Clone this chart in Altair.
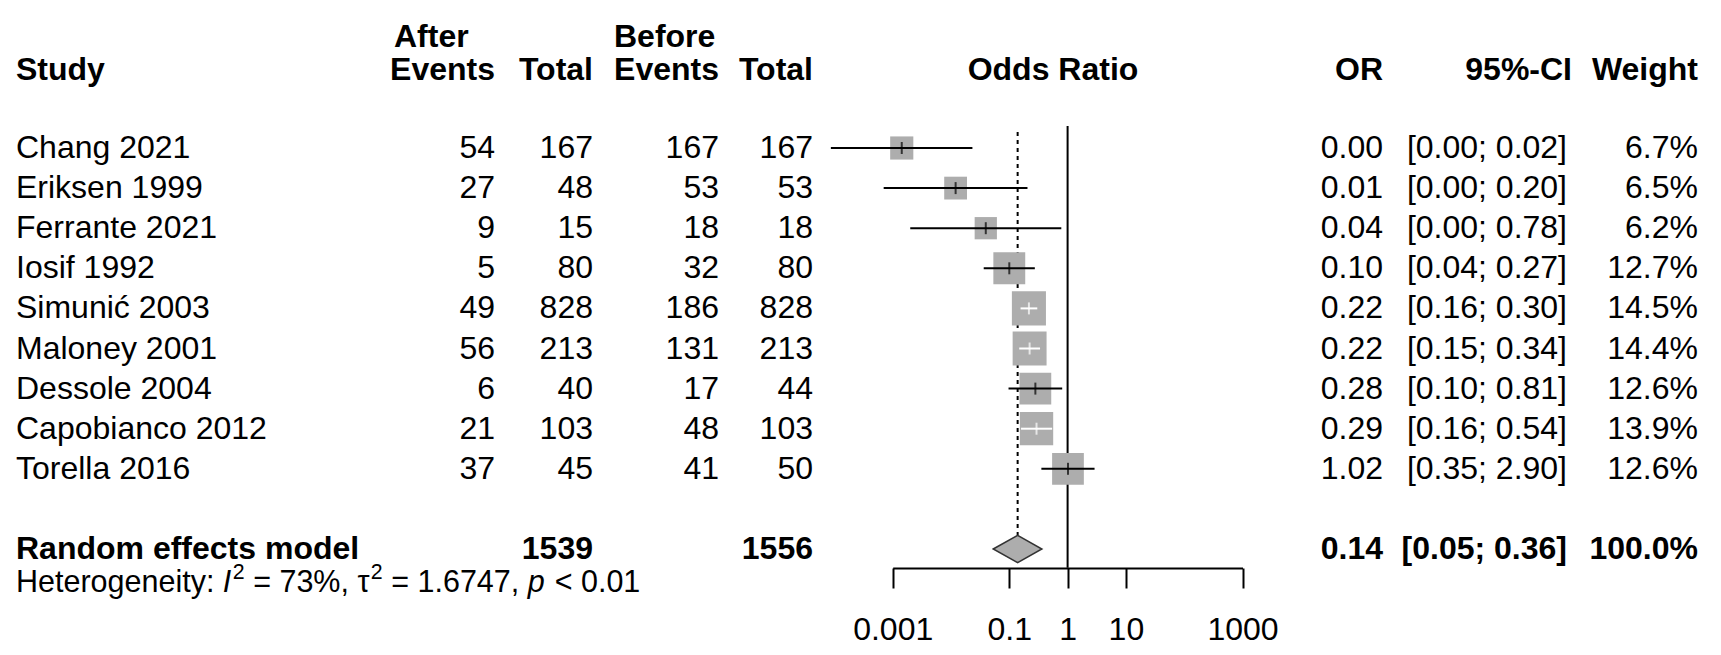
import altair as alt
import pandas as pd

# ---------------- data ----------------
studies = ["Chang 2021", "Eriksen 1999", "Ferrante 2021", "Iosif 1992", "Simunić 2003",
           "Maloney 2001", "Dessole 2004", "Capobianco 2012", "Torella 2016"]
ev_after = [54, 27, 9, 5, 49, 56, 6, 21, 37]
n_after = [167, 48, 15, 80, 828, 213, 40, 103, 45]
ev_before = [167, 53, 18, 32, 186, 131, 17, 48, 41]
n_before = [167, 53, 18, 80, 828, 213, 44, 103, 50]
or_est = [0.00143, 0.0120, 0.0395, 0.100, 0.217, 0.223, 0.280, 0.293, 1.015]
ci_low = [0.000087, 0.00070, 0.0020, 0.0364, 0.156, 0.148, 0.097, 0.159, 0.355]
ci_high = [0.0233, 0.205, 0.78, 0.274, 0.302, 0.337, 0.808, 0.543, 2.90]
weights = [6.7, 6.5, 6.2, 12.7, 14.5, 14.4, 12.6, 13.9, 12.6]
or_labels = ["0.00", "0.01", "0.04", "0.10", "0.22", "0.22", "0.28", "0.29", "1.02"]
ci_labels = ["[0.00; 0.02]", "[0.00; 0.20]", "[0.00; 0.78]", "[0.04; 0.27]", "[0.16; 0.30]",
             "[0.15; 0.34]", "[0.10; 0.81]", "[0.16; 0.54]", "[0.35; 2.90]"]

pooled_label = "Random effects model"
pooled_n_after = 1539
pooled_n_before = 1556
pooled_est = 0.139
pooled_low = 0.053
pooled_high = 0.362
pooled_or_label = "0.14"
pooled_ci_label = "[0.05; 0.36]"
pooled_w_label = "100.0%"
null_or = 1.0

# heterogeneity line, as (text, style) pieces
het_pieces = [("Heterogeneity: ", "normal"), ("I", "italic"), ("2", "sup"),
              (" = 73%, τ", "normal"), ("2", "sup"), (" = 1.6747, ", "normal"),
              ("p", "italic"), (" < 0.01", "normal")]

header_top = ["After", "Before"]
header_main = ["Study", "Events", "Total", "Events", "Total", "Odds Ratio", "OR", "95%-CI", "Weight"]
axis_ticks = [0.001, 0.1, 1, 10, 1000]

# ---------------- styles / layout ----------------
FONT = "Liberation Sans"
FS = 32
HET_FS = 30.5
SUP_SCALE = 0.7
SQ_COLOR = "#ADADAD"
AREA_PER_PCT = 80
DECADE_PX = 58.3
DIAMOND_HALF = 0.34

# Arial / Liberation Sans advance widths (em) for the heterogeneity text
ADV = {"H": .722, "e": .556, "t": .278, "r": .333, "o": .556, "g": .556, "n": .556, "i": .222,
       "y": .5, ":": .278, " ": .278, "I": .278, "=": .584, "%": .889, ",": .278, "τ": .44,
       ".": .278, "p": .556, "<": .584}
def text_width(s, size):
    return sum(ADV.get(c, .556) for c in s) * size

n = len(studies)
pooled_row = n + 1

yscale = alt.Scale(domain=[0, pooled_row], range=[140, 541], zero=False, nice=False)
xscale = alt.Scale(type="log", domain=[0.001, 1000], range=[884.7, 1234.5], nice=False)
xaxis = alt.Axis(values=axis_ticks, format="~g", title=None, grid=False,
                 domainColor="black", domainWidth=2, tickColor="black", tickWidth=2,
                 tickSize=20, labelFont=FONT, labelFontSize=FS, labelColor="black",
                 labelPadding=26, labelFlush=False, labelOverlap=False)

df = pd.DataFrame(dict(study=studies, ev_after=ev_after, n_after=n_after, ev_before=ev_before,
                       n_before=n_before, est=or_est, lo=ci_low, hi=ci_high, weight=weights,
                       or_lab=or_labels, ci_lab=ci_labels))
df["row"] = list(range(n))
df["w_lab"] = [f"{w:.1f}%" for w in weights]

pooled = pd.DataFrame(dict(label=[pooled_label], n_after=[pooled_n_after], n_before=[pooled_n_before],
                           est=[pooled_est], lo=[pooled_low], hi=[pooled_high],
                           or_lab=[pooled_or_label], ci_lab=[pooled_ci_label], w_lab=[pooled_w_label],
                           row=[pooled_row], null=[null_or]))

diamond = pd.DataFrame(dict(x=[pooled_low, pooled_est, pooled_high], k=[0, 1, 0]))

Y = lambda f: alt.Y(f, scale=yscale, axis=None)
X = lambda f: alt.X(f, scale=xscale, axis=xaxis)

base = alt.Chart(df)
pbase = alt.Chart(pooled)

null_line = pbase.transform_calculate(
    ytop="-0.55", ybot="datum.row + 0.47"
).mark_rule(color="black", strokeWidth=2).encode(x=X("null:Q"), y=Y("ytop:Q"), y2="ybot:Q")

pooled_line = pbase.transform_calculate(
    ytop="-0.4", ybot=f"datum.row - {DIAMOND_HALF}"
).mark_rule(color="black", strokeWidth=2, strokeDash=[4, 4]).encode(x=X("est:Q"), y=Y("ytop:Q"), y2="ybot:Q")

squares = base.mark_square(color=SQ_COLOR, opacity=1).encode(
    x=X("est:Q"), y=Y("row:Q"),
    size=alt.Size("weight:Q", scale=alt.Scale(domain=[0, 100], range=[0, AREA_PER_PCT * 100]), legend=None))

inside = base.transform_calculate(
    half=f"sqrt(datum.weight*{AREA_PER_PCT})/2/{DECADE_PX}",
).transform_calculate(
    inside="(log(datum.hi)-log(datum.est))/LN10 < datum.half && (log(datum.est)-log(datum.lo))/LN10 < datum.half"
)
line_color = alt.condition("datum.inside", alt.value("white"), alt.value("black"))
ci_lines = inside.mark_rule(strokeWidth=2).encode(x=X("lo:Q"), x2="hi:Q", y=Y("row:Q"), color=line_color)
est_ticks = inside.mark_tick(orient="vertical", size=12, thickness=2).encode(
    x=X("est:Q"), y=Y("row:Q"), color=line_color)

diamond_layer = alt.Chart(diamond).transform_calculate(
    y1=f"{pooled_row} - datum.k*{DIAMOND_HALF}", y2=f"{pooled_row} + datum.k*{DIAMOND_HALF}"
).mark_area(fill=SQ_COLOR, stroke="#333333", strokeWidth=1.5, orient="vertical").encode(
    x=X("x:Q"), y=Y("y1:Q"), y2="y2:Q")

layers = [null_line, pooled_line, squares, ci_lines, est_ticks, diamond_layer]

# study table columns: field, x (px), align
columns = [("study", 8, "left"), ("ev_after", 487, "right"), ("n_after", 585, "right"),
           ("ev_before", 711, "right"), ("n_before", 805, "right"),
           ("or_lab", 1375, "right"), ("ci_lab", 1559, "right"), ("w_lab", 1690, "right")]
for field, xpx, al in columns:
    layers.append(base.mark_text(align=al, baseline="middle", font=FONT, fontSize=FS, color="black").encode(
        x=alt.value(xpx), y=Y("row:Q"), text=f"{field}:N"))

pooled_cols = [("label", 8, "left"), ("n_after", 585, "right"), ("n_before", 805, "right"),
               ("or_lab", 1375, "right"), ("ci_lab", 1559, "right"), ("w_lab", 1690, "right")]
for field, xpx, al in pooled_cols:
    layers.append(pbase.mark_text(align=al, baseline="middle", font=FONT, fontSize=FS,
                                  fontWeight="bold", color="black").encode(
        x=alt.value(xpx), y=Y("row:Q"), text=f"{field}:N"))

# heterogeneity text built from styled pieces; leading spaces become an x offset
het_x = 8.0
het_row = pooled_row + 0.86
for txt, style in het_pieces:
    size = HET_FS * SUP_SCALE if style == "sup" else HET_FS
    mk = dict(align="left", baseline="middle", font=FONT, fontSize=size, color="black")
    if style == "italic":
        mk["fontStyle"] = "italic"
    if style == "sup":
        mk["dy"] = -10
    lead = len(txt) - len(txt.lstrip(" "))
    x0 = het_x + text_width(" " * lead, size)
    layers.append(alt.Chart(pd.DataFrame({"t": [txt.strip(" ")], "row": [het_row]})).mark_text(**mk).encode(
        x=alt.value(x0), y=Y("row:Q"), text="t:N"))
    het_x += text_width(txt, size) + (1.5 if style == "italic" else 0)

# headers
top_pos = [(386, "left"), (606, "left")]
for label, (xpx, al) in zip(header_top, top_pos):
    layers.append(alt.Chart(pd.DataFrame({"t": [label], "row": [-2.76]})).mark_text(
        align=al, baseline="middle", font=FONT, fontSize=FS, fontWeight="bold", color="black").encode(
        x=alt.value(xpx), y=Y("row:Q"), text="t:N"))

main_pos = [(8, "left"), (487, "right"), (585, "right"), (711, "right"), (805, "right"),
            (1045, "center"), (1375, "right"), (1564, "right"), (1690, "right")]
for label, (xpx, al) in zip(header_main, main_pos):
    layers.append(alt.Chart(pd.DataFrame({"t": [label], "row": [-1.95]})).mark_text(
        align=al, baseline="middle", font=FONT, fontSize=FS, fontWeight="bold", color="black").encode(
        x=alt.value(xpx), y=Y("row:Q"), text="t:N"))

chart = alt.layer(*layers).properties(
    width=1705, height=560,
    padding={"left": 0, "right": 0, "top": 0, "bottom": 79},
    autosize=alt.AutoSizeParams(type="none"),
    background="white",
).configure_view(stroke=None)

chart.save("out.html", embed_options={"renderer": "svg", "actions": False})
